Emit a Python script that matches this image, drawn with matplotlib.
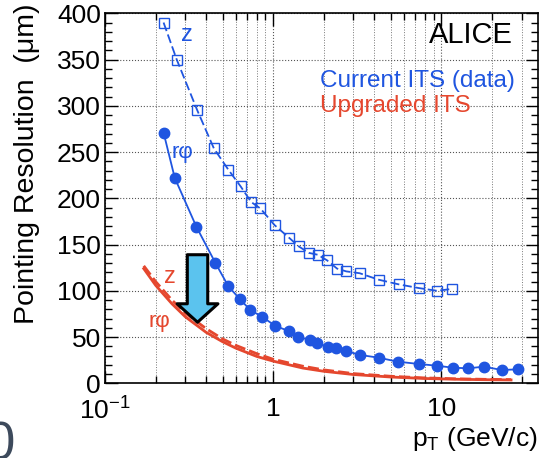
import matplotlib.pyplot as plt
import numpy as np


plt.rcParams['font.family'] = ['Liberation Sans', 'DejaVu Sans']
plt.rcParams['mathtext.default'] = 'regular'

BLUE = "#1f55e0"
RED = "#e5472e"

# current ITS, z (open squares, dashed)
cur_z_pt = [0.223, 0.267, 0.354, 0.444, 0.541, 0.64, 0.74, 0.84, 1.02, 1.25, 1.42, 1.63,
            1.84, 2.09, 2.40, 2.72, 3.27, 4.24, 5.57, 7.33, 9.42, 11.56]
cur_z_res = [390, 350, 295, 254, 231, 213, 196, 189, 171, 157, 148, 141,
             139, 133, 124, 121, 119, 112, 107, 103, 100, 102]

# current ITS, r-phi (filled circles, solid)
cur_rphi_pt = [0.223, 0.26, 0.35, 0.454, 0.541, 0.634, 0.733, 0.86, 1.03, 1.24, 1.41, 1.65,
               1.83, 2.12, 2.38, 2.72, 3.3, 4.24, 5.5, 7.33, 9.42, 11.7, 14.5, 17.9, 22.9, 28.7]
cur_rphi_res = [271, 222, 169, 130, 105, 91, 79, 72, 62, 56.5, 50.4, 46.8,
                43.2, 39.6, 38.5, 34.9, 30.6, 27.7, 23.4, 20.9, 19, 16.9, 16.2, 18, 14.4, 15.1]

# upgraded ITS
upg_pt = [0.17, 0.2, 0.25, 0.3, 0.4, 0.5, 0.6, 0.8, 1.0, 1.5, 2, 3, 5, 8, 12, 18, 26]
upg_rphi_res = [124, 106, 86, 72, 55, 45, 38, 29, 24, 16.5, 13, 9.5, 6.8, 5.2, 4.4, 3.9, 3.6]
upg_z_res = [127, 110, 90, 76, 59, 48, 41, 32, 26, 18.5, 14.5, 10.5, 7.6, 5.8, 4.9, 4.3, 4.0]

XTICKS = [0.1, 1, 10]
XTICKLABELS = ["$10^{-1}$", "1", "10"]
YTICKS = [0, 50, 100, 150, 200, 250, 300, 350, 400]


def main():
    fig = plt.figure(figsize=(5.47, 4.58), dpi=100)
    ax = fig.add_axes([105 / 547, 1 - 383.3 / 458, 433 / 547, 370 / 458])

    ax.set_xscale("log")
    ax.set_xlim(0.1, 37.6)
    ax.set_ylim(0, 400)

    ax.plot(upg_pt, upg_rphi_res, color=RED, lw=2.0, zorder=3)
    ax.plot(upg_pt, upg_z_res, color=RED, lw=2.0, ls=(0, (4, 1.5)), zorder=3)

    ax.plot(cur_z_pt, cur_z_res, color=BLUE, lw=1.3, ls=(0, (5, 2)),
            marker="s", ms=7.5, mfc="none", mec=BLUE, mew=1.0, zorder=4)
    ax.plot(cur_rphi_pt, cur_rphi_res, color=BLUE, lw=1.3,
            marker="o", ms=7.5, mfc=BLUE, mec=BLUE, zorder=4)

    ax.annotate("", xy=(0.355, 66), xytext=(0.355, 139),
                arrowprops=dict(arrowstyle="simple,head_length=0.95,head_width=2.1,tail_width=1.05",
                                mutation_scale=14, fc="#5bc3ee", ec="black", lw=2.2,
                                shrinkA=0, shrinkB=0),
                zorder=6)

    ax.text(0.305, 377, "z", color=BLUE, fontsize=17, ha="center", va="center")
    ax.text(0.29, 250, "r\u03c6", color=BLUE, fontsize=16, ha="center", va="center")
    ax.text(0.242, 115, "z", color=RED, fontsize=17, ha="center", va="center")
    ax.text(0.21, 67, "r\u03c6", color=RED, fontsize=16, ha="center", va="center")

    ax.text(26.7, 368, "ALICE", color="black", fontsize=21, ha="right", va="baseline")
    ax.text((320 - 105) / 433, 1 - (87 - 13.3) / 370, "Current ITS (data)", color=BLUE,
            fontsize=17.5, ha="left", va="baseline", transform=ax.transAxes)
    ax.text((320 - 105) / 433, 1 - (111.7 - 13.3) / 370, "Upgraded ITS", color=RED,
            fontsize=17.5, ha="left", va="baseline", transform=ax.transAxes)

    ax.set_xticks(XTICKS)
    ax.set_xticklabels(XTICKLABELS)
    ax.set_yticks(YTICKS)
    ax.yaxis.set_minor_locator(plt.MultipleLocator(10))
    ax.tick_params(which="both", direction="in", top=True, right=True, labelsize=19)
    ax.tick_params(which="major", length=9, width=1)
    ax.tick_params(which="minor", length=5, width=1)
    ax.tick_params(axis="x", pad=10)
    ax.tick_params(axis="y", pad=3)

    ax.grid(True, which="major", color="#555555", ls=":", lw=0.8)
    ax.grid(True, which="minor", axis="x", color="#777777", ls=":", lw=0.7)
    ax.set_axisbelow(True)

    for s in ax.spines.values():
        s.set_linewidth(1.2)

    fig.text(538 / 547, 1 - 446 / 458, "p$_\\mathregular{T}$ (GeV/c)", fontsize=19,
             ha="right", va="baseline")
    fig.text(27 / 547, 1 - 4 / 458, "Pointing Resolution  (\u03bcm)", fontsize=20.5,
             rotation=90, ha="center", va="top")

    fig.text(15 / 547, 1 - 420 / 458, "0", fontsize=38, color="#3d4a5c",
             ha="right", va="top")

    fig.savefig("out.png", dpi=100)


if __name__ == "__main__":
    main()
